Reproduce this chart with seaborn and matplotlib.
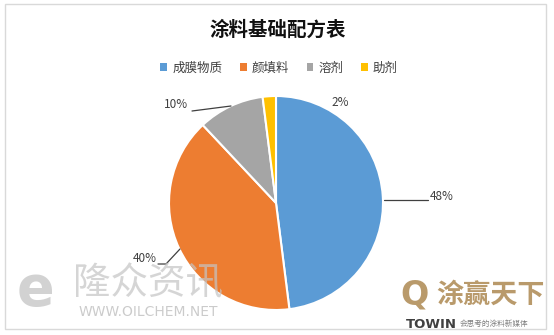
import matplotlib
matplotlib.use("Agg")
import matplotlib.pyplot as plt
import seaborn as sns
from matplotlib.patches import Rectangle

categories = ["成膜物质", "颜填料", "溶剂", "助剂"]
values = [48, 40, 10, 2]
title = "涂料基础配方表"
colors = ["#5B9BD5", "#ED7D31", "#A5A5A5", "#FFC000"]

sns.set_theme(style="white")
plt.rcParams['font.family'] = ['Noto Sans CJK SC', 'DejaVu Sans']

W, H = 554, 335
fig = plt.figure(figsize=(W / 100, H / 100), dpi=100)
ax = fig.add_axes([0, 0, 1, 1])

cx, cy, R = 276, 203, 107
pal = sns.color_palette(colors)
wedges, _ = ax.pie(values, colors=pal, startangle=90, counterclock=False,
                   radius=1, center=(0, 0),
                   wedgeprops=dict(edgecolor="white", linewidth=1.5))
ax.set_xlim((0 - cx) / R, (W - cx) / R)
ax.set_ylim((cy - H) / R, cy / R)
ax.set_aspect("auto")
ax.axis("off")

def px(x, y):
    return ((x - cx) / R, (cy - y) / R)

lab_color = "#404040"
# 48%
ax.plot(*zip(px(384, 200), px(428, 200)), color="#404040", lw=0.9)
ax.text(*px(430, 197), f"{values[0]}%", ha="left", va="center", fontsize=8.5, color=lab_color)
# 40%
ax.plot(*zip(px(180, 249), px(166, 264), px(158, 264)), color="#404040", lw=0.9)
ax.text(*px(157, 259), f"{values[1]}%", ha="right", va="center", fontsize=8.5, color=lab_color)
# 10%
ax.plot(*zip(px(231, 106), px(192, 111)), color="#404040", lw=0.9)
ax.text(*px(188, 105), f"{values[2]}%", ha="right", va="center", fontsize=8.5, color=lab_color)
# 2%
ax.text(*px(340, 102), f"{values[3]}%", ha="center", va="center", fontsize=8.5, color=lab_color)

# title
fig.text(278 / W, 1 - 30 / H, title, ha="center", va="center", fontsize=14,
         fontweight="bold", color="#111111")

# legend
leg = fig.legend(wedges, categories, loc="center", bbox_to_anchor=(279 / W, 1 - 68 / H),
                 ncol=4, frameon=False, fontsize=9, handlelength=0.55, handleheight=0.55,
                 handletextpad=0.4, columnspacing=1.4, labelcolor="#404040")
for h in leg.legend_handles:
    h.set_edgecolor("none")

# border
fig.patches.append(Rectangle((5 / W, 1 - 329 / H), 541 / W, 325 / H, transform=fig.transFigure,
                             fill=False, edgecolor="#d9d9d9", lw=1))

# watermarks
fig.text(35 / W, 1 - 290 / H, "е", ha="center", va="center", fontsize=40,
         color="#bfbfbf", alpha=0.7, fontweight="bold", family=["DejaVu Sans"])
fig.text(148 / W, 1 - 284 / H, "隆众资讯", ha="center", va="center", fontsize=27,
         color="#c4c4c4", alpha=0.7, fontweight="light")
fig.text(148 / W, 1 - 312 / H, "WWW.OILCHEM.NET", ha="center", va="center", fontsize=10,
         color="#bfbfbf", alpha=0.8, family=["DejaVu Sans"])
fig.text(414 / W, 1 - 295 / H, "Q", ha="center", va="center", fontsize=24,
         color="#b99a6b", fontweight="bold", family=["DejaVu Sans"])
fig.text(491 / W, 1 - 295 / H, "涂赢天下", ha="center", va="center", fontsize=19.5,
         color="#b99a6b", fontweight="bold")
fig.text(406 / W, 1 - 324 / H, "TOWIN", ha="left", va="center", fontsize=9.5,
         color="#404040", fontweight="bold", family=["DejaVu Sans"])
fig.text(460 / W, 1 - 324 / H, "会思考的涂料新媒体", ha="left", va="center", fontsize=5.5,
         color="#808080")

fig.savefig("out.png", dpi=100)
